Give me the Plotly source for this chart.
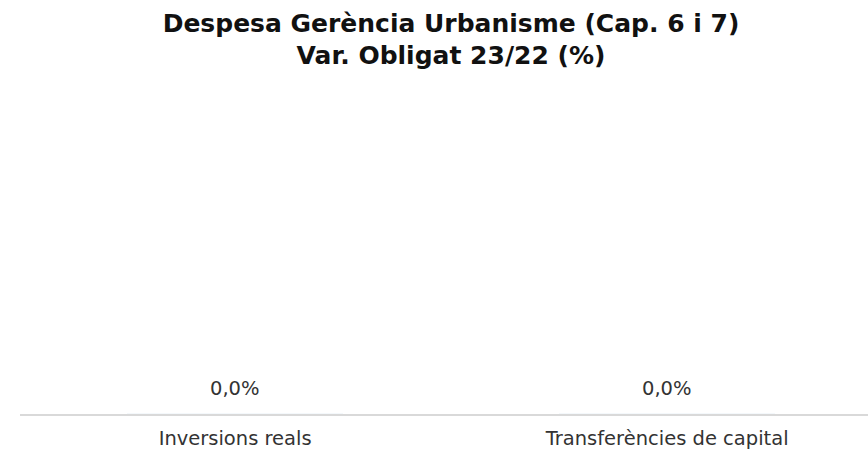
import plotly.graph_objects as go

# Capital spending categories (chapters 6 and 7) and year-on-year change, %
categories = ["Inversions reals", "Transferències de capital"]
variation_pct = [0.0, 0.0]
value_labels = [f"{v:.1f}%".replace(".", ",") for v in variation_pct]

FONT = "DejaVu Sans, Verdana, sans-serif"

fig = go.Figure(
    go.Bar(
        x=categories,
        y=variation_pct,
        marker_color="#4e79a7",
        width=0.5,
        hoverinfo="x+y",
    )
)

# Value labels sit a little above each bar's end
for cat, val, lab in zip(categories, variation_pct, value_labels):
    fig.add_annotation(
        x=cat,
        y=val,
        text=lab,
        showarrow=False,
        yanchor="bottom",
        yshift=12,
        font=dict(family=FONT, size=19.5, color="#333333"),
    )

fig.update_layout(
    width=868,
    height=452,
    paper_bgcolor="white",
    plot_bgcolor="white",
    font=dict(family=FONT, color="#333333"),
    title=dict(
        text="<b>Despesa Gerència Urbanisme (Cap. 6 i 7)<br>Var. Obligat 23/22 (%)</b>",
        x=0.5196,
        xanchor="center",
        y=0.93,
        yanchor="top",
        font=dict(family=FONT, size=25, color="#111111"),
    ),
    margin=dict(l=20, r=0, t=90, b=38),
    showlegend=False,
    xaxis=dict(
        range=[-0.498, 1.465],
        showline=True,
        linecolor="#d9d9d9",
        linewidth=2,
        showgrid=False,
        ticks="",
        ticklabelstandoff=6,
        tickfont=dict(family=FONT, size=19.5, color="#333333"),
    ),
    yaxis=dict(
        range=[0, 1],
        visible=False,
        showgrid=False,
        zeroline=False,
    ),
)

fig.write_html("out.html")
